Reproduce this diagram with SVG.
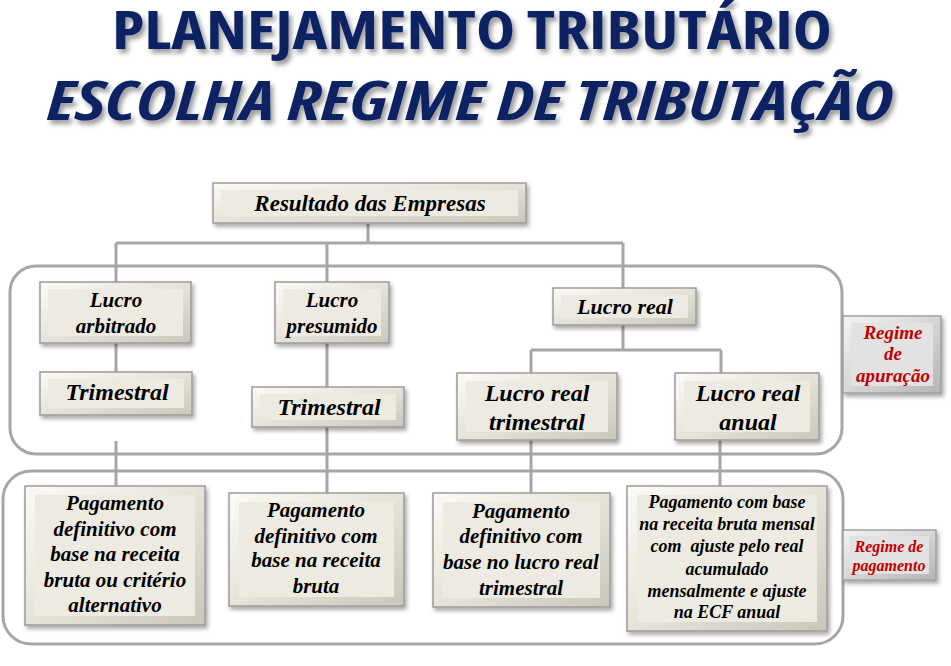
<svg xmlns="http://www.w3.org/2000/svg" width="951" height="666" viewBox="0 0 951 666">
<defs>
<linearGradient id="gb" x1="0" y1="0" x2="1" y2="1">
<stop offset="0" stop-color="#fbfaf6"/><stop offset="0.5" stop-color="#e6e4d8"/><stop offset="1" stop-color="#c9c6ba"/>
</linearGradient>
<linearGradient id="gg" x1="0" y1="0" x2="1" y2="1">
<stop offset="0" stop-color="#f4f4f4"/><stop offset="0.5" stop-color="#d6d6d6"/><stop offset="1" stop-color="#b4b4b4"/>
</linearGradient>
<filter id="sh" x="-10%" y="-10%" width="130%" height="140%">
<feDropShadow dx="2" dy="3" stdDeviation="2" flood-color="#000" flood-opacity="0.35"/>
</filter>
<filter id="tsh" filterUnits="userSpaceOnUse" x="0" y="0" width="951" height="150">
<feDropShadow dx="3" dy="4" stdDeviation="2.5" flood-color="#000" flood-opacity="0.4"/>
</filter>
<style>
.bo{fill:url(#gb);stroke:#9c9c9c;stroke-width:1.5;filter:url(#sh)}
.bi{fill:#edebe1}
.go{fill:url(#gg);stroke:#a0a0a0;stroke-width:1.5;filter:url(#sh)}
.gi{fill:#e2e2e2}
.c{fill:none;stroke:#a6a6a6;stroke-width:3}
.ct{fill:none;stroke:#a6a6a6;stroke-width:3}
</style>
</defs>
<rect width="951" height="666" fill="#fff"/>
<g id="title" filter="url(#tsh)" font-family="Open Sans, Liberation Sans, sans-serif" font-weight="bold" font-stretch="condensed" fill="#0f2463" text-anchor="middle" font-size="53">
<text x="472" y="49" textLength="720" lengthAdjust="spacingAndGlyphs">PLANEJAMENTO TRIBUTÁRIO</text>
<text x="470" y="120" font-style="italic" textLength="846" lengthAdjust="spacingAndGlyphs">ESCOLHA REGIME DE TRIBUTAÇÃO</text>
</g>
<g id="containers">
<rect class="ct" x="10" y="266" width="832" height="188" rx="26"/>
<rect class="ct" x="3" y="471" width="840" height="173" rx="28"/>
</g>
<g id="connectors">
<path class="c" d="M368 223V243M116 243H623M116 243V282M327 243V282M623 243V288"/>
<path class="c" d="M116 343V372M327 343V388M623 325V350M531 350H721M531 350V373M721 350V373"/>
<path class="c" d="M116 441V486M327 427V493M531 440V493M720 440V486"/>
</g>
<g id="nodes" font-family="Liberation Serif, Times New Roman, serif" font-weight="bold" font-style="italic" text-anchor="middle" fill="#000">
<g id="n-resultado">
<rect class="bo" x="213" y="183" width="313" height="40"/><rect class="bi" x="221" y="190" width="297" height="26"/>
<text x="370" y="211" font-size="23">Resultado das Empresas</text>
</g>
<g id="n-arbitrado">
<rect class="bo" x="40" y="282" width="151" height="61"/><rect class="bi" x="48" y="289" width="135" height="47"/>
<text x="116" y="307" font-size="21">Lucro</text>
<text x="116" y="333" font-size="21">arbitrado</text>
</g>
<g id="n-trim-arb">
<rect class="bo" x="40" y="372" width="152" height="43"/><rect class="bi" x="48" y="379" width="136" height="29"/>
<text x="117" y="400" font-size="24">Trimestral</text>
</g>
<g id="n-presumido">
<rect class="bo" x="275" y="282" width="114" height="61"/><rect class="bi" x="283" y="289" width="98" height="47"/>
<text x="332" y="307" font-size="21">Lucro</text>
<text x="332" y="333" font-size="21">presumido</text>
</g>
<g id="n-trim-pres">
<rect class="bo" x="252" y="387" width="152" height="40"/><rect class="bi" x="260" y="394" width="136" height="26"/>
<text x="329" y="415" font-size="24">Trimestral</text>
</g>
<g id="n-real">
<rect class="bo" x="553" y="288" width="143" height="37"/><rect class="bi" x="561" y="295" width="127" height="23"/>
<text x="625" y="314" font-size="22">Lucro real</text>
</g>
<g id="n-real-trim">
<rect class="bo" x="457" y="373" width="160" height="67"/><rect class="bi" x="466" y="381" width="142" height="51"/>
<text x="537" y="401" font-size="24">Lucro real</text>
<text x="537" y="430" font-size="24">trimestral</text>
</g>
<g id="n-real-anual">
<rect class="bo" x="675" y="373" width="144" height="67"/><rect class="bi" x="684" y="381" width="126" height="51"/>
<text x="748" y="401" font-size="24">Lucro real</text>
<text x="748" y="430" font-size="24">anual</text>
</g>
<g id="n-regime-apuracao" fill="#c00000">
<rect class="go" x="843" y="316" width="98" height="77"/><rect class="gi" x="851" y="323" width="82" height="63"/>
<text x="893" y="339" font-size="19">Regime</text>
<text x="893" y="360" font-size="19">de</text>
<text x="893" y="382" font-size="19">apuração</text>
</g>
<g id="n-pag1">
<rect class="bo" x="25" y="486" width="180" height="139"/><rect class="bi" x="35" y="495" width="160" height="121"/>
<text x="115" y="510" font-size="21">Pagamento</text>
<text x="115" y="536" font-size="21">definitivo com</text>
<text x="115" y="561" font-size="21">base na receita</text>
<text x="115" y="587" font-size="21">bruta ou critério</text>
<text x="115" y="612" font-size="21">alternativo</text>
</g>
<g id="n-pag2">
<rect class="bo" x="229" y="493" width="175" height="113"/><rect class="bi" x="239" y="502" width="155" height="95"/>
<text x="316" y="517" font-size="21">Pagamento</text>
<text x="316" y="543" font-size="21">definitivo com</text>
<text x="316" y="567" font-size="21">base na receita</text>
<text x="316" y="593" font-size="21">bruta</text>
</g>
<g id="n-pag3">
<rect class="bo" x="433" y="493" width="177" height="114"/><rect class="bi" x="443" y="502" width="157" height="96"/>
<text x="521" y="518" font-size="21">Pagamento</text>
<text x="521" y="543" font-size="21">definitivo com</text>
<text x="521" y="569" font-size="21">base no lucro real</text>
<text x="521" y="595" font-size="21">trimestral</text>
</g>
<g id="n-pag4">
<rect class="bo" x="627" y="486" width="200" height="145"/><rect class="bi" x="637" y="495" width="180" height="127"/>
<text x="727" y="508" font-size="18">Pagamento com base</text>
<text x="727" y="530" font-size="18">na receita bruta mensal</text>
<text x="727" y="552" font-size="18" xml:space="preserve">com  ajuste pelo real</text>
<text x="727" y="575" font-size="18">acumulado</text>
<text x="727" y="597" font-size="18">mensalmente e ajuste</text>
<text x="727" y="618" font-size="18">na ECF anual</text>
</g>
<g id="n-regime-pagamento" fill="#c00000">
<rect class="go" x="843" y="530" width="93" height="50"/><rect class="gi" x="850" y="536" width="79" height="38"/>
<text x="889" y="552" font-size="16">Regime de</text>
<text x="889" y="571" font-size="16">pagamento</text>
</g>
</g>
</svg>
